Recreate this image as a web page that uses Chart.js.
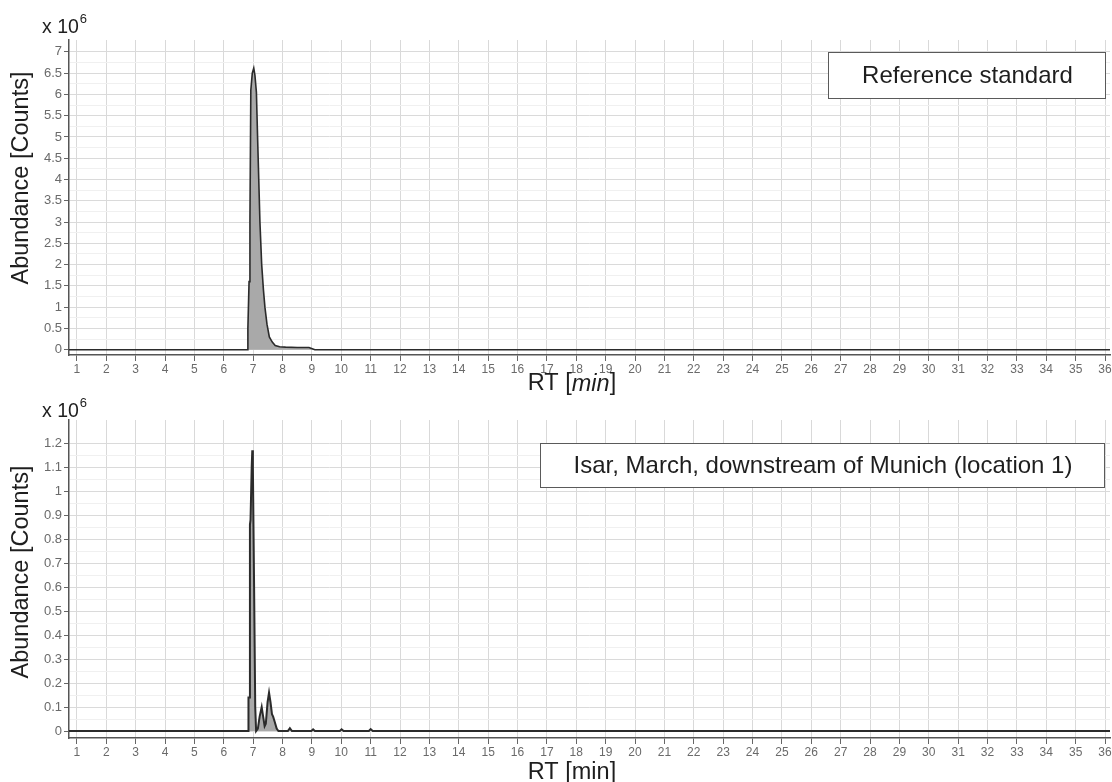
<!DOCTYPE html>
<html>
<head>
<meta charset="utf-8">
<title>Chromatograms</title>
<script src="https://cdn.jsdelivr.net/npm/chart.js@4.4.1/dist/chart.umd.min.js"></script>
<style>
  html, body { margin: 0; padding: 0; background: #fff; }
  #wrap { position: relative; width: 1112px; height: 782px; }
  .panel { position: absolute; left: 0; width: 1112px; }
</style>
</head>
<body>
<div id="wrap">
  <div class="panel" style="top:0;height:398px"><canvas id="refChart" width="1112" height="398"></canvas></div>
  <div class="panel" style="top:398px;height:384px"><canvas id="isarChart" width="1112" height="384"></canvas></div>
</div>
<script>
// Retention time [min] and abundance [x 10^6 counts] of the reference standard trace
const rtRef = [0.73, 6.80, 6.82, 6.86, 6.89, 6.92, 6.97, 7.02, 7.06, 7.11,
               7.15, 7.19, 7.23, 7.29, 7.35, 7.40, 7.47, 7.55, 7.65, 7.75,
               7.90, 8.10, 8.50, 8.90, 9.10, 36.17];
const abundanceRef = [0, 0, 0.5, 1.6, 3.0, 6.1, 6.5, 6.62, 6.45, 6.05,
                      5.0, 4.0, 3.0, 2.0, 1.4, 1.0, 0.6, 0.3, 0.18, 0.1,
                      0.07, 0.06, 0.05, 0.05, 0.0, 0];

// Retention time [min] and abundance [x 10^6 counts] of the Isar sample trace
const rtIsar = [0.73, 6.83, 6.84, 6.88, 6.89, 6.91, 6.95, 6.97, 6.99, 7.03,
                7.07, 7.10, 7.16, 7.22, 7.29, 7.34, 7.39, 7.43, 7.49, 7.54,
                7.59, 7.64, 7.68, 7.73, 7.80, 7.86, 8.18, 8.25, 8.32, 8.98,
                9.04, 9.10, 9.95, 10.01, 10.08, 10.94, 11.00, 11.07, 36.17];
const abundanceIsar = [0, 0, 0.14, 0.14, 0.86, 0.88, 1.1, 1.17, 1.1, 0.62,
                       0.1, 0, 0.01, 0.06, 0.10, 0.06, 0.02, 0.03, 0.12, 0.16,
                       0.12, 0.07, 0.06, 0.04, 0.01, 0, 0, 0.012, 0, 0,
                       0.007, 0, 0, 0.007, 0, 0, 0.008, 0, 0];

// Axis ticks
const rtTicks = [1, 2, 3, 4, 5, 6, 7, 8, 9, 10, 11, 12, 13, 14, 15, 16, 17, 18,
                 19, 20, 21, 22, 23, 24, 25, 26, 27, 28, 29, 30, 31, 32, 33, 34, 35, 36];
const refYTicks = [0, 0.5, 1, 1.5, 2, 2.5, 3, 3.5, 4, 4.5, 5, 5.5, 6, 6.5, 7];
const isarYTicks = [0, 0.1, 0.2, 0.3, 0.4, 0.5, 0.6, 0.7, 0.8, 0.9, 1, 1.1, 1.2];

const refLabel = 'Reference standard';
const isarLabel = 'Isar, March, downstream of Munich (location 1)';
const yTitle = 'Abundance [Counts]';

const FONT = "'Liberation Sans', Arial, Helvetica, sans-serif";
const TICK_FONT = "'Liberation Sans', Arial, sans-serif";
const TITLE_SIZE = 23.5;

// Draws the exponent, axis titles and the boxed sample label
const overlay = {
  id: 'overlay',
  afterDraw(chart, args, o) {
    const ctx = chart.ctx;
    ctx.save();
    ctx.fillStyle = '#1e1e1e';

    // "x 10^6" exponent above the y axis
    ctx.textAlign = 'left';
    ctx.textBaseline = 'alphabetic';
    ctx.font = '19.5px ' + FONT;
    ctx.fillText('x 10', o.expX, o.expY);
    const w = ctx.measureText('x 10').width;
    ctx.font = '13px ' + FONT;
    ctx.fillText('6', o.expX + w + 1, o.expY - 10);

    // rotated y-axis title
    ctx.save();
    ctx.translate(o.yTitleX, o.yTitleY);
    ctx.rotate(-Math.PI / 2);
    ctx.textAlign = 'center';
    ctx.textBaseline = 'middle';
    ctx.font = TITLE_SIZE + 'px ' + FONT;
    ctx.fillText(yTitle, 0, 0);
    ctx.restore();

    // x-axis title "RT [min]"
    ctx.textBaseline = 'middle';
    ctx.textAlign = 'left';
    const parts = [['RT [', ''], ['min', o.italicUnit ? 'italic ' : ''], [']', '']];
    let total = 0;
    parts.forEach(p => { ctx.font = p[1] + TITLE_SIZE + 'px ' + FONT; total += ctx.measureText(p[0]).width; });
    let x = o.xTitleX - total / 2;
    parts.forEach(p => {
      ctx.font = p[1] + TITLE_SIZE + 'px ' + FONT;
      ctx.fillText(p[0], x, o.xTitleY);
      x += ctx.measureText(p[0]).width;
    });

    // boxed sample label
    const b = o.box;
    ctx.fillStyle = '#ffffff';
    ctx.fillRect(b.x, b.y, b.w, b.h);
    ctx.strokeStyle = '#5a5a5a';
    ctx.lineWidth = 1;
    ctx.strokeRect(b.x + 0.5, b.y + 0.5, b.w, b.h);
    ctx.fillStyle = '#1e1e1e';
    ctx.font = '24px ' + FONT;
    ctx.textAlign = 'center';
    ctx.textBaseline = 'middle';
    ctx.fillText(o.label, b.x + b.w / 2 + 1, b.y + b.h / 2 + 1);
    ctx.restore();
  }
};

function buildChart(canvasId, rts, values, yTicks, yMin, yMax, padTop, xAxisHeight, lineWidth, overlayOpts) {
  const minor = [];
  for (let i = 0; i < yTicks.length - 1; i++) minor.push((yTicks[i] + yTicks[i + 1]) / 2);
  const yTickObjs = yTicks.map(v => ({ value: v, minorTick: false }))
    .concat(minor.map(v => ({ value: v, minorTick: true })))
    .sort((a, b) => a.value - b.value);

  const points = rts.map((t, i) => ({ x: t, y: values[i] }));

  return new Chart(document.getElementById(canvasId), {
    type: 'line',
    data: {
      datasets: [{
        data: points,
        borderColor: '#2b2b2b',
        borderWidth: lineWidth,
        backgroundColor: '#a9a9a9',
        fill: 'origin',
        pointRadius: 0,
        tension: 0
      }]
    },
    options: {
      responsive: false,
      animation: false,
      events: [],
      layout: { padding: { top: padTop, right: 2, left: 0, bottom: 0 } },
      plugins: {
        legend: { display: false },
        tooltip: { enabled: false },
        overlay: overlayOpts
      },
      scales: {
        x: {
          type: 'linear',
          min: 0.73,
          max: 36.17,
          afterBuildTicks: s => { s.ticks = rtTicks.map(v => ({ value: v })); },
          afterFit: s => { s.height = xAxisHeight; s.paddingLeft = 0; s.paddingRight = 0; },
          border: { display: true, color: '#555555', width: 1.5 },
          grid: { color: '#d9d9d9', lineWidth: 1, tickColor: '#666666', tickLength: 6, drawTicks: true },
          ticks: {
            autoSkip: false, maxRotation: 0, minRotation: 0, padding: 1,
            color: '#6a6a6a',
            font: { family: TICK_FONT, size: 12 },
            callback: v => String(v)
          }
        },
        y: {
          type: 'linear',
          min: yMin,
          max: yMax,
          afterBuildTicks: s => { s.ticks = yTickObjs.map(t => ({ value: t.value, minorTick: t.minorTick })); },
          afterFit: s => { s.width = 69; s.paddingTop = 0; s.paddingBottom = 0; },
          border: { display: true, color: '#555555', width: 1.5 },
          grid: {
            color: c => (c.tick && c.tick.minorTick) ? '#f0f0f0' : '#dadada',
            tickColor: c => (c.tick && c.tick.minorTick) ? 'rgba(0,0,0,0)' : '#666666',
            tickLength: 5,
            drawTicks: true
          },
          ticks: {
            autoSkip: false, padding: 2,
            color: '#6a6a6a',
            font: { family: TICK_FONT, size: 13 },
            callback: function (v, i, ticks) { return ticks[i].minorTick ? '' : String(v); }
          }
        }
      }
    },
    plugins: [overlay]
  });
}

buildChart('refChart', rtRef, abundanceRef, refYTicks, -0.125, 7.28, 40, 43, 1.6, {
  expX: 42, expY: 33,
  yTitleX: 22, yTitleY: 178,
  xTitleX: 572, xTitleY: 384, italicUnit: true,
  box: { x: 828, y: 52, w: 277, h: 46 },
  label: refLabel
});

buildChart('isarChart', rtIsar, abundanceIsar, isarYTicks, -0.029, 1.296, 22, 44, 2, {
  expX: 42, expY: 19,
  yTitleX: 22, yTitleY: 174,
  xTitleX: 572, xTitleY: 375, italicUnit: false,
  box: { x: 540, y: 45, w: 564, h: 44 },
  label: isarLabel
});
</script>
</body>
</html>
